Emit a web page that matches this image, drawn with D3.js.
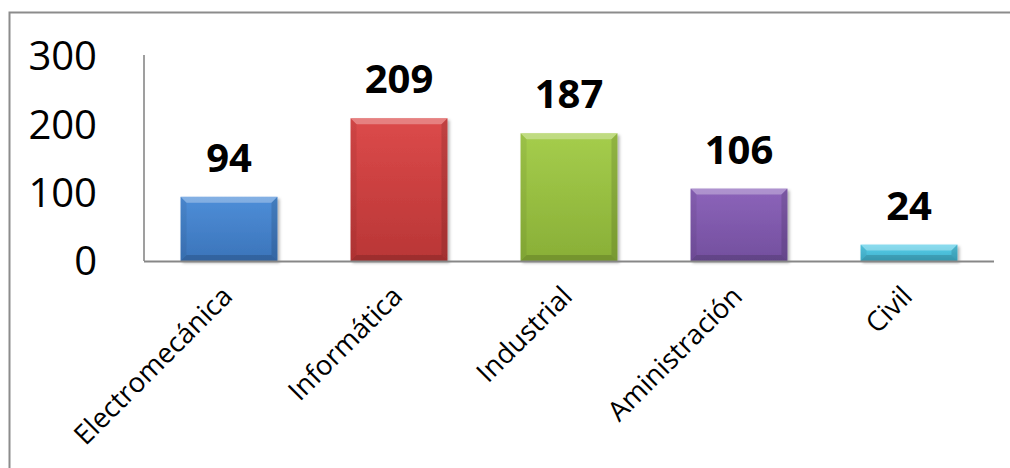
<!DOCTYPE html>
<html>
<head>
<meta charset="utf-8">
<script src="https://cdn.jsdelivr.net/npm/d3@7"></script>
<style>
  body { margin: 0; background: #fff; }
  svg { display: block; }
</style>
</head>
<body>
<div id="chart"></div>
<script>

// chart data
const categories = ["Electromecánica", "Informática", "Industrial", "Aministración", "Civil"];
const values = [94, 209, 187, 106, 24];
const yTicks = [0, 100, 200, 300];

// base colour of each bar (light top, dark bottom)
const barColors = [
    ["#4e8ed8", "#3b74ba"],
    ["#dc4a4a", "#b93636"],
    ["#a5cd4c", "#89af37"],
    ["#8c64ba", "#734f9e"],
    ["#58cde8", "#40b1cc"]
];

const width = 1010, height = 468;
const margin = { left: 144, right: 16, top: 56, bottom: 207 };

const svg = d3.select("#chart").append("svg")
    .attr("width", width)
    .attr("height", height);

// outer frame, only the top and left edges are inside the picture
svg.append("rect")
    .attr("x", 9.5)
    .attr("y", 12.5)
    .attr("width", 1200)
    .attr("height", 800)
    .attr("fill", "none")
    .attr("stroke", "#8c8c8c")
    .attr("stroke-width", 2);

const x = d3.scaleBand()
    .domain(categories)
    .range([margin.left, width - margin.right])
    .paddingInner(0.43)
    .paddingOuter(0.215);

const y = d3.scaleLinear()
    .domain([0, 300])
    .range([height - margin.bottom, margin.top]);

const defs = svg.append("defs");

barColors.forEach(function(c, i) {
    let g = defs.append("linearGradient")
        .attr("id", "grad" + i)
        .attr("x1", 0).attr("y1", 0)
        .attr("x2", 0).attr("y2", 1);
    g.append("stop").attr("offset", "0%").attr("stop-color", c[0]);
    g.append("stop").attr("offset", "100%").attr("stop-color", c[1]);
});

defs.append("filter")
    .attr("id", "shadow")
    .attr("x", "-10%").attr("y", "-10%")
    .attr("width", "130%").attr("height", "130%")
    .append("feDropShadow")
    .attr("dx", 2).attr("dy", 2)
    .attr("stdDeviation", 1.5)
    .attr("flood-color", "#000")
    .attr("flood-opacity", 0.3);

// y axis labels
svg.append("g")
    .selectAll("text")
    .data(yTicks).enter()
    .append("text")
    .attr("x", 97)
    .attr("y", d => y(d))
    .attr("dy", "0.36em")
    .attr("text-anchor", "end")
    .attr("font-family", "'Open Sans', sans-serif")
    .attr("font-size", 40)
    .attr("fill", "#000")
    .text(d => d);

// bars
const bevel = 6;
const bars = svg.append("g")
    .selectAll("g.bar")
    .data(values).enter()
    .append("g")
    .classed("bar", true)
    .attr("filter", "url(#shadow)");

bars.each(function(v, i) {
    let g = d3.select(this);
    let x0 = x(categories[i]);
    let w = x.bandwidth();
    let y0 = y(v);
    let y1 = y(0);
    let h = y1 - y0;
    let b = Math.min(bevel, h / 2);

    g.append("rect")
        .attr("x", x0).attr("y", y0)
        .attr("width", w).attr("height", h)
        .attr("fill", "url(#grad" + i + ")");

    // top bevel, lighter
    g.append("path")
        .attr("d", d3.line()([[x0, y0], [x0 + w, y0], [x0 + w - b, y0 + b], [x0 + b, y0 + b]]))
        .attr("fill", "#fff")
        .attr("fill-opacity", 0.3);

    // bottom bevel, darker
    g.append("path")
        .attr("d", d3.line()([[x0, y1], [x0 + w, y1], [x0 + w - b, y1 - b], [x0 + b, y1 - b]]))
        .attr("fill", "#000")
        .attr("fill-opacity", 0.15);

    // side bevels
    g.append("path")
        .attr("d", d3.line()([[x0, y0], [x0 + b, y0 + b], [x0 + b, y1 - b], [x0, y1]]))
        .attr("fill", "#000")
        .attr("fill-opacity", 0.06);
    g.append("path")
        .attr("d", d3.line()([[x0 + w, y0], [x0 + w - b, y0 + b], [x0 + w - b, y1 - b], [x0 + w, y1]]))
        .attr("fill", "#000")
        .attr("fill-opacity", 0.12);
});

// axis lines
svg.append("line")
    .attr("x1", margin.left).attr("x2", margin.left)
    .attr("y1", margin.top - 1).attr("y2", y(0))
    .attr("stroke", "#878787")
    .attr("stroke-width", 1.6);

svg.append("line")
    .attr("x1", margin.left).attr("x2", width - margin.right)
    .attr("y1", y(0) + 0.5).attr("y2", y(0) + 0.5)
    .attr("stroke", "#878787")
    .attr("stroke-width", 2);

// value labels
svg.append("g")
    .selectAll("text")
    .data(values).enter()
    .append("text")
    .attr("x", (d, i) => x(categories[i]) + x.bandwidth() / 2)
    .attr("y", d => y(d) - 25)
    .attr("text-anchor", "middle")
    .attr("font-family", "'Open Sans', sans-serif")
    .attr("font-weight", "bold")
    .attr("font-size", 40)
    .attr("fill", "#000")
    .text(d => d);

// category labels, rotated
svg.append("g")
    .selectAll("text")
    .data(categories).enter()
    .append("text")
    .attr("transform", d => "translate(" + (x(d) + x.bandwidth() / 2 + 5) + "," + 298 + ") rotate(-45)")
    .attr("text-anchor", "end")
    .attr("font-family", "'Open Sans', sans-serif")
    .attr("font-size", 27.5)
    .attr("fill", "#000")
    .text(d => d);

</script>
</body>
</html>
